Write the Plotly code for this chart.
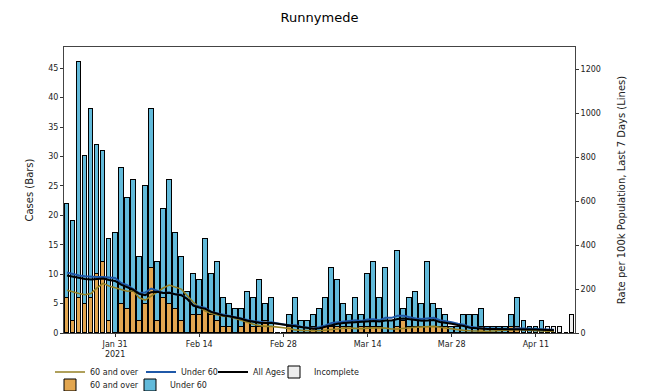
import pandas as pd
import plotly.graph_objects as go

# ---------------- data ----------------
start_date = "2021-01-23"

cases_60_plus = [6, 2, 6, 5, 6, 10, 12, 2, 0, 5,
                 4, 7, 2, 5, 11, 2, 6, 5, 4, 2,
                 0, 3, 3, 4, 3, 2, 1, 1, 0, 1,
                 2, 1, 1, 2, 1, 0, 0, 1, 0, 0,
                 0, 1, 0, 1, 1, 1, 1, 1, 0, 1,
                 1, 1, 1, 0, 0, 1, 2, 1, 1, 1,
                 1, 1, 1, 1, 0, 0, 0, 0, 0, 1,
                 0, 0, 0, 0, 1, 1, 0, 0, 0, 0]

cases_under_60 = [16, 17, 40, 25, 32, 22, 19, 14, 17, 23,
                  19, 19, 11, 20, 27, 10, 15, 21, 13, 11,
                  7, 7, 6, 12, 7, 10, 5, 4, 4, 3,
                  5, 5, 8, 3, 5, 0, 0, 2, 6, 2,
                  2, 2, 4, 5, 10, 8, 4, 2, 6, 2,
                  9, 11, 5, 11, 2, 13, 2, 5, 6, 4,
                  11, 4, 3, 2, 1, 1, 3, 3, 3, 3,
                  1, 1, 1, 1, 2, 5, 2, 1, 1, 2]

cases_incomplete = [1, 1, 1, 0, 3]

rate_all_ages = [262, 256, 250, 246, 244, 246, 248, 241, 237, 220,
                 210, 197, 178, 172, 186, 188, 182, 183, 176, 172,
                 155, 125, 116, 110, 96, 88, 80, 76, 71, 65,
                 56, 51, 47, 46, 46, 42, 38, 34, 32, 26,
                 22, 19, 22, 29, 38, 42, 45, 47, 50, 50,
                 53, 55, 52, 57, 57, 64, 66, 63, 58, 56,
                 57, 59, 50, 47, 42, 36, 32, 24, 21, 20,
                 18, 18, 18, 16, 16, 19, 17, 16, 16, 15,
                 14, 13]

rate_under_60 = [275, 268, 262, 258, 255, 255, 255, 252, 250, 228,
                 218, 200, 182, 184, 202, 193, 182, 184, 176, 174,
                 156, 126, 120, 114, 96, 90, 82, 77, 72, 67,
                 58, 54, 51, 48, 49, 44, 39, 34, 36, 27,
                 25, 21, 27, 34, 46, 49, 52, 53, 58, 55,
                 61, 63, 58, 69, 69, 79, 78, 72, 66, 64,
                 66, 69, 58, 55, 49, 42, 38, 28, 24, 22,
                 21, 21, 21, 19, 18, 22, 20, 18, 18, 17,
                 16, 15]

rate_60_plus = [195, 186, 180, 174, 180, 205, 226, 214, 205, 198,
                190, 192, 160, 150, 168, 185, 205, 218, 210, 200,
                170, 140, 118, 100, 89, 81, 76, 75, 66, 57,
                48, 40, 34, 30, 30, 28, 24, 20, 14, 12,
                10, 10, 10, 14, 16, 18, 22, 22, 20, 20,
                22, 24, 24, 22, 18, 18, 22, 24, 26, 28,
                30, 30, 26, 22, 18, 16, 12, 10, 8, 8,
                8, 10, 12, 14, 14, 16, 14, 12, 10, 10,
                8, 8]

tick_dates = ["2021-01-31", "2021-02-14", "2021-02-28", "2021-03-14", "2021-03-28", "2021-04-11"]
tick_labels = ["Jan 31<br>2021", "Feb 14", "Feb 28", "Mar 14", "Mar 28", "Apr 11"]

# ---------------- build ----------------
n_complete = len(cases_60_plus)
all_dates = pd.date_range(start_date, periods=n_complete + len(cases_incomplete), freq="D")
d_complete = all_dates[:n_complete]
d_incomplete = all_dates[n_complete:]

DAY = 86400000
bw = 0.8 * DAY

C_OLD = "#E2A650"
C_YOUNG = "#62BADA"
L_OLD = "#948024"
L_YOUNG = "#1f58a8"

FONT = "DejaVu Sans"
ML, MR, MT, MB = 64, 73, 47, 58
W, H = 648, 391
PLOT_W = W - ML - MR
PLOT_H = H - MT - MB

fig = go.Figure()

fig.add_trace(go.Bar(x=d_complete, y=cases_60_plus, width=bw, name="60 and over",
                     marker=dict(color=C_OLD, line=dict(color="black", width=1)),
                     legend="legend5", showlegend=True, yaxis="y"))
fig.add_trace(go.Bar(x=d_complete, y=cases_under_60, width=bw, name="Under 60",
                     marker=dict(color=C_YOUNG, line=dict(color="black", width=1)),
                     legend="legend6", showlegend=True, yaxis="y"))
fig.add_trace(go.Bar(x=d_incomplete, y=cases_incomplete, width=bw, name="Incomplete",
                     marker=dict(color="#eeeeee", line=dict(color="black", width=1)),
                     legend="legend4", showlegend=True, yaxis="y"))

fig.add_trace(go.Scatter(x=all_dates[:len(rate_60_plus)], y=rate_60_plus, mode="lines",
                         name="60 and over", line=dict(color=L_OLD, width=1.6),
                         legend="legend", showlegend=True, yaxis="y2"))
fig.add_trace(go.Scatter(x=all_dates[:len(rate_under_60)], y=rate_under_60, mode="lines",
                         name="Under 60", line=dict(color=L_YOUNG, width=2),
                         legend="legend2", showlegend=True, yaxis="y2"))
fig.add_trace(go.Scatter(x=all_dates[:len(rate_all_ages)], y=rate_all_ages, mode="lines",
                         name="All Ages", line=dict(color="black", width=2),
                         legend="legend3", showlegend=True, yaxis="y2"))

x0 = pd.Timestamp(start_date) - pd.Timedelta(hours=12)
x1 = all_dates[-1] + pd.Timedelta(hours=12)

tickfont = dict(family=FONT, size=8, color="#222")


def leg(px_x, px_y):
    return dict(orientation="h", x=(px_x - ML) / PLOT_W, xanchor="left",
                y=-(px_y - (H - MB)) / PLOT_H, yanchor="middle",
                font=dict(family=FONT, size=8, color="#222"), itemwidth=30,
                bgcolor="rgba(0,0,0,0)", visible=True)


fig.update_layout(
    width=W, height=H,
    showlegend=True,
    margin=dict(l=ML, r=MR, t=MT, b=MB, autoexpand=False),
    paper_bgcolor="white", plot_bgcolor="white",
    barmode="stack", bargap=0,
    font=dict(family=FONT, size=8, color="#222"),
    title=dict(text="Runnymede", x=0.5, xref="paper", xanchor="center",
               y=1 - 17 / H, yanchor="middle", yref="container",
               font=dict(family=FONT, size=13, color="black")),
    xaxis=dict(type="date", range=[x0, x1], tickvals=tick_dates, ticktext=tick_labels,
               ticks="outside", ticklen=3, tickcolor="#333", showgrid=False, zeroline=False,
               showline=True, linecolor="#444", linewidth=1, mirror=True, tickfont=tickfont),
    yaxis=dict(range=[0, 48.6], tickvals=list(range(0, 50, 5)), ticks="outside", ticklen=3,
               tickcolor="#333", showgrid=False, zeroline=False, showline=True, linecolor="#444",
               linewidth=1, tickfont=tickfont,
               title=dict(text="Cases (Bars)", font=dict(family=FONT, size=10, color="#222"), standoff=12)),
    yaxis2=dict(range=[0, 1302], tickvals=list(range(0, 1400, 200)), overlaying="y", side="right",
                ticks="outside", ticklen=3, tickcolor="#333", showgrid=False, zeroline=False,
                showline=True, linecolor="#444", linewidth=1, tickfont=tickfont,
                title=dict(text="Rate per 100k Population, Last 7 Days (Lines)",
                           font=dict(family=FONT, size=10, color="#222"), standoff=18)),
    legend=leg(50, 372),
    legend2=leg(141, 372),
    legend3=leg(213, 372),
    legend4=leg(274, 372),
    legend5=leg(50, 385),
    legend6=leg(130, 385),
)

fig.write_html("out.html", config={"displayModeBar": False},
               post_script="document.body.style.margin='0px';")
